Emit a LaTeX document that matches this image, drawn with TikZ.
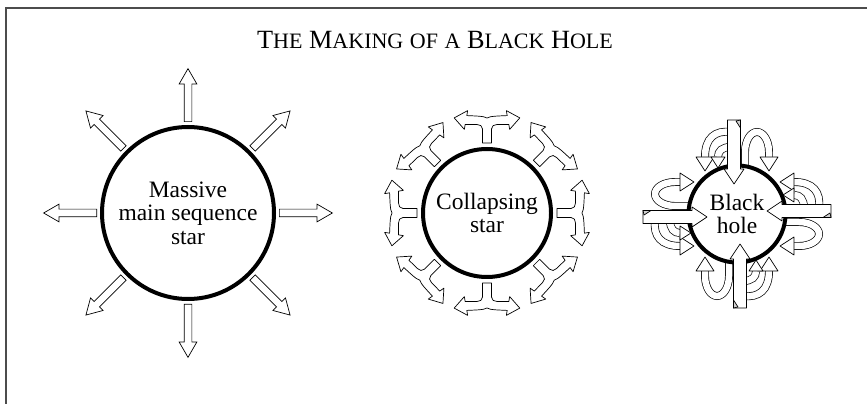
\documentclass[tikz,border=0pt]{standalone}
\usepackage{fontspec}
\setmainfont{Liberation Serif}
\usetikzlibrary{shapes.arrows,calc}
\newcommand\lowcap[1]{{\fontsize{22}{22}\selectfont #1}}   % hand-made small capitals

\begin{document}
\begin{tikzpicture}[x=1pt, y=1pt,
      starbody/.style={circle, draw, line width=4pt, fill=white, align=center,
                       inner sep=0pt, font=\fontsize{23.5}{23.5}\selectfont},   % one circle per stage
      ray/.style={single arrow, draw, line width=0.7pt, fill=white, anchor=tail,
                  minimum height=53, minimum width=17, inner sep=3.5pt,
                  single arrow head extend=5pt, single arrow tip angle=60},  % outflow arrow
      outline/.style={draw, line width=0.7pt, fill=white, line join=round},
      band/.style={draw, line width=0.7pt, double=white, double distance=6.5pt}]
    \useasboundingbox (0,0) rectangle (867,404);
    \draw[black!70, line width=2pt] (867,395.5) -- (6,395.5) -- (6,0);   % frame
    \node[font=\fontsize{26.3}{27}\selectfont, anchor=base] (title) at (435,355)
         {T\lowcap{HE} M\lowcap{AKING} \lowcap{OF} \lowcap{A} B\lowcap{LACK} H\lowcap{OLE}};

    % stage 1: massive star with straight rays
    \node[starbody, minimum size=172] (massive) at (188,191) {Massive\\main sequence\\star};
    \foreach \a in {0,45,...,315}
      \node[ray, rotate=\a] (ray\a) at ($(massive.center)+(\a:91)$) {};

    % stage 2: collapsing star with split arrows
    \node[starbody, minimum size=128] (collapsing) at (487,191) {Collapsing\\star};
    \foreach \a in {0,45,...,315}
      \draw[outline, shift={(collapsing.center)}, rotate=\a]
        (-4.5,70) -- (-4.5,84) .. controls (-4.5,87) and (-7,88.5) .. (-10,88.5)
        -- (-21.8,88.6) -- (-22.65,83.6) -- (-32.8,95.1) -- (-19.35,102.4) -- (-20.2,97.4)
        .. controls (-12,97) and (-3,97) .. (0,95) .. controls (3,97) and (12,97) .. (20.2,97.4)
        -- (19.35,102.4) -- (32.8,95.1) -- (22.65,83.6) -- (21.8,88.6)
        -- (10,88.5) .. controls (7,88.5) and (4.5,87) .. (4.5,84) -- (4.5,70) -- cycle;

    % stage 3: black hole, loops first, then the hole, then the infalling ribbons
    \coordinate (holec) at (737,190);
    \foreach \a in {0,90,180,270} {
      \begin{scope}[shift={(holec)}, rotate=\a]
        \draw[band] (8,47) -- (8,62) arc[start angle=180, end angle=0, x radius=12, y radius=20] -- (32,57);
        \draw[outline] (23,57) -- (32,43) -- (41,57) -- cycle;
        \draw[band] (-6,82) .. controls (-22,84) and (-32,76) .. (-32,57);
        \draw[outline] (-41,57) -- (-32,43) -- (-23,57) -- cycle;
        \draw[band] (-6,67) .. controls (-15,67) and (-19,63) .. (-19,57);
        \draw[outline] (-26,57) -- (-19,46) -- (-12,57) -- cycle;
      \end{scope}
    }
    \node[starbody, minimum size=97] (blackhole) at (holec) {Black\\hole};
    \foreach \a in {0,90,180,270} {
      \begin{scope}[shift={(holec)}, rotate=\a]
        \draw[outline] (-9.5,94) -- (3.5,94) -- (3.5,45) -- (7,45) -- (-3,30)
                       -- (-13,45) -- (-9.5,45) -- cycle;
        \draw[outline, fill=gray!35] (3.5,94) -- (3.5,86) -- (-1,93) -- cycle;   % ribbon twist
      \end{scope}
    }
  \end{tikzpicture}
\end{document}
